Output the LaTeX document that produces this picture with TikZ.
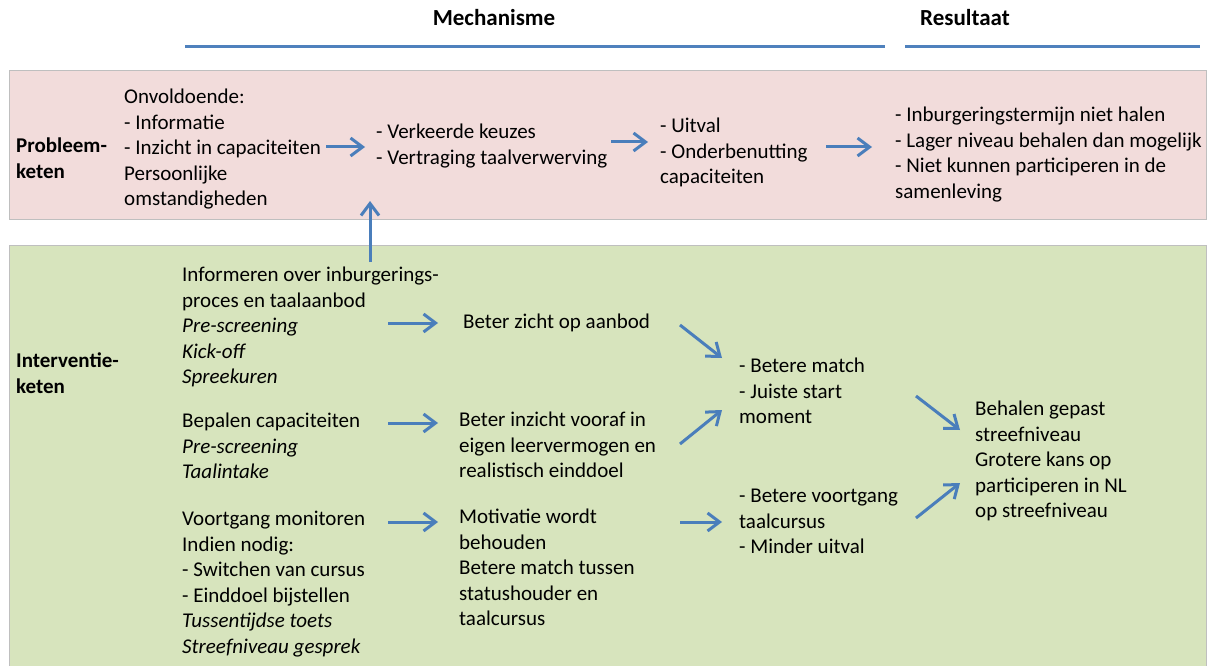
\documentclass[tikz,border=0pt]{standalone}
\usepackage{fontspec}
\setmainfont{Carlito}
\usetikzlibrary{arrows.meta}

\definecolor{probfill}{HTML}{F2DCDB}
\definecolor{intfill}{HTML}{D7E4BD}
\definecolor{boxline}{HTML}{BFBFBF}
\definecolor{arrblue}{HTML}{4A7EBB}
\definecolor{ruleblue}{HTML}{4F81BD}

\tikzset{
	txt/.style = {anchor = north west, inner sep = 0, align = left, font = \fontsize{21}{25.5}\selectfont},
	chain/.style = {txt, font = \fontsize{21}{25.5}\selectfont\bfseries},
	heading/.style = {inner sep = 0, font = \fontsize{23}{27}\selectfont\bfseries},
	arr/.style = {arrblue, line width = 3pt, -{Straight Barb[length = 12pt, width = 18pt]}},
	rule/.style = {ruleblue, line width = 3pt}
}

\begin{document}
\begin{tikzpicture}[x = 1pt, y = -1pt]

\useasboundingbox (0, 0) rectangle (1208, 666);

% Column headings

\node [heading] (hMech) at (494, 18) {Mechanisme};
\node [heading] (hRes) at (965, 18) {Resultaat};
\draw [rule] (185, 47) -- (885, 47);
\draw [rule] (905, 47) -- (1200, 47);

% The two bands

\draw [boxline, fill = probfill] (9, 70) rectangle (1206, 219);
\draw [boxline, fill = intfill] (9, 245) rectangle (1206, 672);

% Probleemketen

\node [chain] (probH) at (16, 138) {Probleem-\\keten};
\node [txt] (p1) at (124, 89) {Onvoldoende:\\- Informatie\\- Inzicht in capaciteiten\\Persoonlijke\\omstandigheden};
\node [txt] (p2) at (376, 124) {- Verkeerde keuzes\\- Vertraging taalverwerving};
\node [txt] (p3) at (660, 118) {- Uitval\\- Onderbenutting\\capaciteiten};
\node [txt] (p4) at (895, 107) {- Inburgeringstermijn niet halen\\- Lager niveau behalen dan mogelijk\\- Niet kunnen participeren in de\\samenleving};

\draw [arr] ([shift = {(-50, 23)}]p2.north west) -- ([shift = {(-11, 23)}]p2.north west);
\draw [arr] ([shift = {(-49, 24)}]p3.north west) -- ([shift = {(-12, 24)}]p3.north west);
\draw [arr] ([shift = {(-69, 40)}]p4.north west) -- ([shift = {(-23, 40)}]p4.north west);

% Interventieketen

\node [chain] (intH) at (16, 353) {Interventie-\\keten};
\node [txt] (g1) at (182, 267) {Informeren over inburgerings-\\proces en taalaanbod\\\textit{Pre-screening}\\\textit{Kick-off}\\\textit{Spreekuren}};
\node [txt] (g2) at (182, 413) {Bepalen capaciteiten\\\textit{Pre-screening}\\\textit{Taalintake}};
\node [txt] (g3) at (182, 511) {Voortgang monitoren\\Indien nodig:\\- Switchen van cursus\\- Einddoel bijstellen\\\textit{Tussentijdse toets}\\\textit{Streefniveau gesprek}};

\node [txt] (m1) at (463, 314) {Beter zicht op aanbod};
\node [txt] (m2) at (459, 412) {Beter inzicht vooraf in\\eigen leervermogen en\\realistisch einddoel};
\node [txt] (m3) at (459, 509) {Motivatie wordt\\behouden\\Betere match tussen\\statushouder en\\taalcursus};

\node [txt] (r1) at (739, 358) {- Betere match\\- Juiste start\\moment};
\node [txt] (r2) at (739, 489) {- Betere voortgang\\taalcursus\\- Minder uitval};

\node [txt] (f1) at (975, 401) {Behalen gepast\\streefniveau\\Grotere kans op\\participeren in NL\\op streefniveau};

% Interventie feeds back into the problem chain

\draw [arr] ([shift = {(188, -5)}]g1.north west) -- ++(0, -61);

% Arrows to the mechanism

\draw [arr] ([shift = {(-75, 9)}]m1.north west) -- ([shift = {(-25, 9)}]m1.north west);
\draw [arr] ([shift = {(-71, 11)}]m2.north west) -- ([shift = {(-21, 11)}]m2.north west);
\draw [arr] ([shift = {(-71, 13)}]m3.north west) -- ([shift = {(-21, 13)}]m3.north west);

% Arrows to the first result

\draw [arr] ([shift = {(-59, -33)}]r1.north west) -- ([shift = {(-17, 0)}]r1.north west);
\draw [arr] ([shift = {(-59, 86)}]r1.north west) -- ([shift = {(-17, 52)}]r1.north west);
\draw [arr] ([shift = {(-59, 33)}]r2.north west) -- ([shift = {(-17, 33)}]r2.north west);

% Arrows to the end result

\draw [arr] ([shift = {(-59, -5)}]f1.north west) -- ([shift = {(-15, 29)}]f1.north west);
\draw [arr] ([shift = {(-59, 117)}]f1.north west) -- ([shift = {(-15, 82)}]f1.north west);

\end{tikzpicture}
\end{document}
